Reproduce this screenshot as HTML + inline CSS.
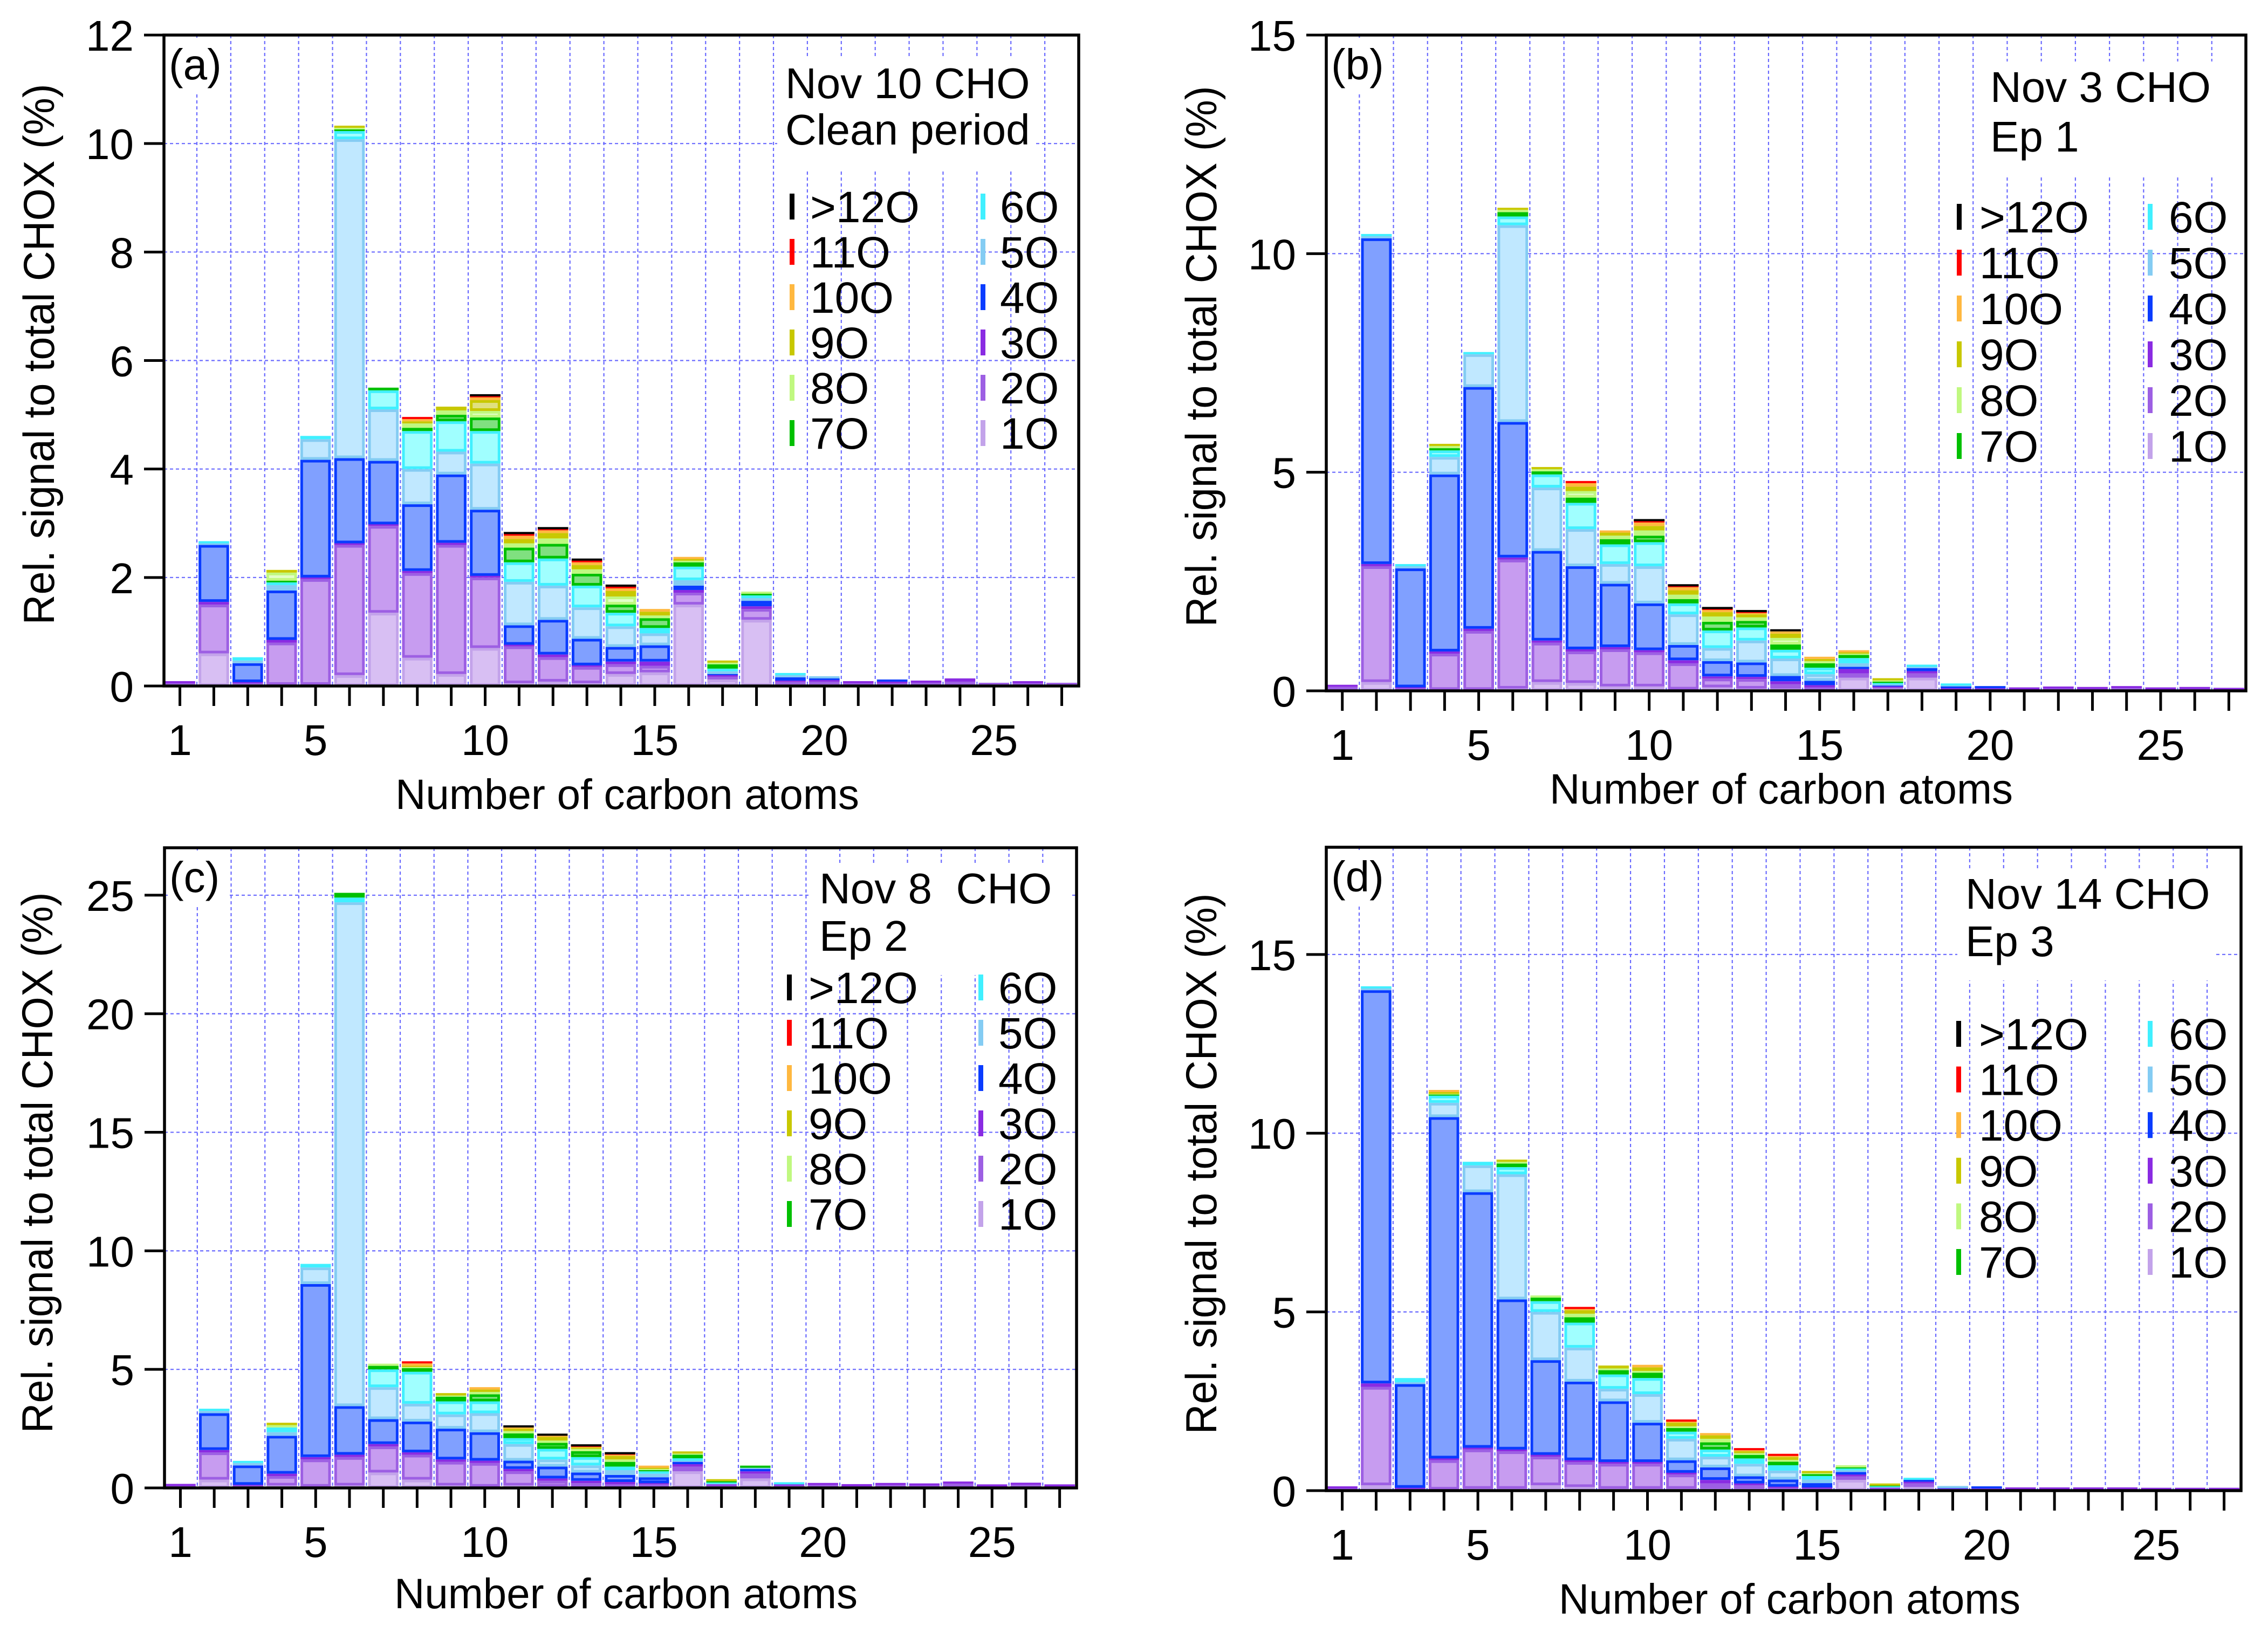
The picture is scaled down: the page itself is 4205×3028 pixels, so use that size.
<!DOCTYPE html>
<html><head><meta charset="utf-8"><style>
html,body{margin:0;padding:0;background:#fff;}
svg{display:block;font-family:"Liberation Sans",Arial,sans-serif;}
</style></head><body>
<svg id="fig" xmlns="http://www.w3.org/2000/svg" width="4205" height="3028" viewBox="0 0 4205 3028"></svg>
<script>
const carbons=[1,2,3,4,5,6,7,8,9,10,11,12,13,14,15,16,17,18,19,20,21,22,23,24,25,26,27];
const orders=['1O','2O','3O','4O','5O','6O','7O','8O','9O','10O','11O','>12O'];
const xTicks=[1,5,10,15,20,25];
const aTicks=[0,2,4,6,8,10,12];
const bTicks=[0,5,10,15];
const cTicks=[0,5,10,15,20,25];
const dTicks=[0,5,10,15];

// Panel (a) Nov 10 clean period
const aO1=[.03,.6,.03,.02,.02,.2,1.35,.52,.22,.7,.05,.08,.05,.22,.25,1.5,.12,1.22,.03,.03,0,0,0,0,.02,0,.02];
const aO2=[.02,.9,.02,.78,1.95,2.4,1.6,1.56,2.38,1.3,.68,.45,.3,.18,.12,.22,.05,.2,.05,.05,.05,.05,.06,.08,.02,.05,.02];
const aO3=[.03,.05,.02,.05,.03,.03,.03,.04,.04,.03,.03,.05,.03,.05,.08,.05,.03,.05,.02,.03,.03,.03,.03,.06,0,.03,0];
const aO4=[0,1.05,.35,.91,2.17,1.57,1.17,1.23,1.26,1.22,.36,.64,.49,.27,.3,.08,.02,.1,.06,.03,0,.02,0,0,0,0,0];
const aO5=[0,.03,.05,.1,.38,5.88,.95,.65,.42,.85,.8,.63,.58,.38,.22,.1,.05,.05,.04,.04,0,0,0,0,0,0,0];
const aO6=[0,.02,.06,.05,.06,.15,.35,.7,.56,.6,.36,.5,.4,.25,.1,.25,.05,.05,.02,0,0,0,0,0,0,0,0];
const aO7=[0,0,0,.03,0,.03,.05,.06,.12,.25,.27,.27,.22,.15,.18,.08,.08,.03,0,0,0,0,0,0,0,0,0];
const aO8=[0,0,0,.15,0,.03,0,.08,.08,.12,.08,.1,.08,.15,.05,.03,.03,.02,0,0,0,0,0,0,0,0,0];
const aO9=[0,0,0,.05,0,.02,0,.04,.07,.2,.08,.1,.08,.1,.07,.03,.03,0,0,0,0,0,0,0,0,0,0];
const aO10=[0,0,0,0,0,0,0,.04,0,.05,.06,.05,.05,.05,.05,.02,0,0,0,0,0,0,0,0,0,0,0];
const aO11=[0,0,0,0,0,0,0,.04,0,.02,.03,.02,.03,.03,0,0,0,0,0,0,0,0,0,0,0,0,0];
const aO12=[0,0,0,0,0,0,0,0,0,.02,.04,.02,.02,.02,0,0,0,0,0,0,0,0,0,0,0,0,0];

// Panel (b) Nov 3 Ep 1
const bO1=[.03,.2,.03,.02,.02,.05,.2,.18,.1,.1,.03,.08,.05,.05,.03,.3,.05,.3,0,0,0,0,0,0,0,0,0];
const bO2=[.06,2.65,.03,.83,1.35,2.95,.9,.72,.85,.78,.6,.2,.22,.1,.05,.1,.03,.1,.03,.04,.03,.05,.04,.06,.03,.04,.02];
const bO3=[.03,.05,.02,.05,.05,.05,.05,.05,.05,.05,.07,.05,.05,.07,.05,.1,.02,.05,.03,.02,.02,.02,.02,.03,.01,.02,.01];
const bO4=[0,7.45,2.72,4.05,5.53,3.1,2.05,1.9,1.45,1.07,.35,.35,.33,.12,.1,.05,.02,.07,.04,.03,0,0,0,0,0,0,0];
const bO5=[0,.05,.05,.4,.75,4.5,1.45,.85,.45,.85,.7,.3,.5,.4,.15,.08,.03,.03,.02,0,0,0,0,0,0,0,0];
const bO6=[0,.05,.05,.15,.05,.2,.3,.6,.45,.55,.25,.4,.3,.2,.15,.12,.03,.02,.02,0,0,0,0,0,0,0,0];
const bO7=[0,0,0,.05,0,.1,.07,.12,.12,.15,.1,.2,.15,.12,.1,.07,.03,0,0,0,0,0,0,0,0,0,0];
const bO8=[0,0,0,.05,0,.05,.05,.15,.08,.12,.1,.12,.08,.15,.05,.03,.03,0,0,0,0,0,0,0,0,0,0];
const bO9=[0,0,0,.05,0,.05,.05,.1,.07,.1,.1,.1,.07,.1,.05,.03,.02,0,0,0,0,0,0,0,0,0,0];
const bO10=[0,0,0,0,0,0,0,.08,.03,.08,.07,.05,.03,.05,.05,.02,0,0,0,0,0,0,0,0,0,0,0];
const bO11=[0,0,0,0,0,0,0,.05,0,.03,.02,.02,.02,0,0,0,0,0,0,0,0,0,0,0,0,0,0];
const bO12=[0,0,0,0,0,0,0,0,0,.02,.02,.02,.02,.02,0,0,0,0,0,0,0,0,0,0,0,0,0];

// Panel (c) Nov 8 Ep 2
const cO1=[.02,.35,.05,.1,.05,.1,.65,.35,.1,.05,.1,.05,.05,.05,.05,.7,.05,.4,.02,.02,.02,.02,.02,.03,.02,.03,.02];
const cO2=[.06,1.15,.05,.4,1.15,1.2,1.1,1.05,1.0,1.0,.6,.25,.15,.1,.1,.2,.05,.2,.08,.1,.05,.1,.08,.15,.04,.1,.04];
const cO3=[.02,.1,.03,.1,.1,.1,.1,.1,.1,.1,.1,.1,.1,.1,.05,.1,.05,.1,.05,.05,.03,.05,.05,.07,.02,.05,.02];
const cO4=[0,1.55,.82,1.6,7.3,2.05,1.05,1.3,1.3,1.2,.35,.5,.35,.3,.25,.1,0,.1,0,0,0,0,0,0,0,0,0];
const cO5=[0,.1,.1,.15,.7,21.25,1.35,.75,.6,.8,.7,.3,.3,.2,.15,.05,.03,.05,0,0,0,0,0,0,0,0,0];
const cO6=[0,.05,.05,.2,.15,.2,.75,1.35,.55,.5,.25,.45,.35,.15,.1,.1,.05,0,.07,0,0,0,0,0,0,0,0];
const cO7=[0,0,0,0,0,.2,.15,.15,.2,.3,.2,.25,.25,.2,.05,.15,.05,.05,0,0,0,0,0,0,0,0,0];
const cO8=[0,0,0,.1,0,0,.05,.05,.05,.1,.1,.1,.1,.1,.05,.05,0,0,0,0,0,0,0,0,0,0,0];
const cO9=[0,0,0,.1,0,0,0,.05,.1,.1,.1,.15,.05,.15,.05,.05,.03,0,0,0,0,0,0,0,0,0,0];
const cO10=[0,0,0,0,0,0,0,.1,0,.1,.05,.05,.03,.05,.05,0,0,0,0,0,0,0,0,0,0,0,0];
const cO11=[0,0,0,0,0,0,0,.07,0,0,0,0,.02,.02,0,0,0,0,0,0,0,0,0,0,0,0,0];
const cO12=[0,0,0,0,0,0,0,0,0,0,.02,.02,.02,.02,0,0,0,0,0,0,0,0,0,0,0,0,0];

// Panel (d) Nov 14 Ep 3
const dO1=[.02,.15,.03,.03,.05,.05,.15,.1,.05,.05,.05,.05,.05,.03,.03,.3,.03,.1,.02,.02,.01,.01,.01,.01,.01,.01,.01];
const dO2=[.04,2.75,.02,.82,1.1,1.05,.8,.7,.7,.7,.4,.15,.1,.05,.03,.1,.03,.1,.03,.03,.02,.02,.02,.02,.01,.01,.01];
const dO3=[.02,.1,.03,.05,.05,.05,.05,.05,.05,.05,.05,.1,.05,.03,.03,.05,.02,.05,.01,.01,.02,.02,.01,.01,.01,.01,.01];
const dO4=[0,11.0,2.9,9.55,7.15,4.2,2.65,2.2,1.7,1.1,.35,.35,.2,.2,.12,.07,0,.05,.01,.01,0,0,0,0,0,0,0];
const dO5=[0,.05,.05,.4,.75,3.5,1.35,.95,.35,.8,.6,.3,.35,.25,.1,.05,.02,0,.01,0,0,0,0,0,0,0,0];
const dO6=[0,.05,.12,.2,.1,.2,.3,.7,.4,.45,.2,.2,.15,.15,.1,.05,.02,.02,0,0,0,0,0,0,0,0,0];
const dO7=[0,0,0,.03,0,.1,.1,.15,.12,.15,.1,.2,.1,.1,.05,.03,.02,0,0,0,0,0,0,0,0,0,0];
const dO8=[0,0,0,.02,0,.05,.05,.1,.05,.05,.05,.1,.05,.05,.03,.02,0,0,0,0,0,0,0,0,0,0,0];
const dO9=[0,0,0,.05,0,.05,0,.1,.08,.1,.1,.1,.05,.08,.02,0,.01,0,0,0,0,0,0,0,0,0,0];
const dO10=[0,0,0,.05,0,0,0,.03,0,.07,.03,.03,.03,.03,0,0,0,0,0,0,0,0,0,0,0,0,0];
const dO11=[0,0,0,0,0,0,0,.02,0,0,.02,0,.02,.02,0,0,0,0,0,0,0,0,0,0,0,0,0];
const dO12=[0,0,0,0,0,0,0,0,0,0,0,0,0,0,0,0,0,0,0,0,0,0,0,0,0,0,0];

const fills=['#d8bff3','#c79cf0','#b584f0','#80a0ff','#c0e8ff','#a0ffff','#80e080','#e2ffc8','#e0e080','#ffd080','#ff8080','#404040'];
const strokes=['#c3a3ea','#9d5fe3','#8a2be2','#0a3cff','#84ccf3','#40f0ff','#00c000','#c0f880','#c8c800','#ffb840','#ff0000','#000000'];

const panels=[
 {id:'a',series:[aO1,aO2,aO3,aO4,aO5,aO6,aO7,aO8,aO9,aO10,aO11,aO12],ticks:aTicks,ymax:12,L:304,R:2000,T:65,B:1272,
  title:['Nov 10 CHO','Clean period'],tx:1456,ty:[182,268],lx:[1464,1818],tx2:[1502,1854],ly:383,ls:84,
  ylab:{x:100,c:657},xlab:{x:733,w:860,y:1500}},
 {id:'b',series:[bO1,bO2,bO3,bO4,bO5,bO6,bO7,bO8,bO9,bO10,bO11,bO12],ticks:bTicks,ymax:15,L:2459,R:4164,T:65,B:1281,
  title:['Nov 3 CHO','Ep 1'],tx:3690,ty:[189,281],lx:[3628,3982],tx2:[3670,4021],ly:402,ls:85,
  ylab:{x:2255,c:661},xlab:{x:2873,w:859,y:1490}},
 {id:'c',series:[cO1,cO2,cO3,cO4,cO5,cO6,cO7,cO8,cO9,cO10,cO11,cO12],ticks:cTicks,ymax:27,L:305,R:1996,T:1572,B:2759,
  title:['Nov 8\u00a0\u00a0CHO','Ep 2'],tx:1519,ty:[1675,1763],lx:[1459,1814],tx2:[1499,1851],ly:1831,ls:84,
  ylab:{x:97,c:2156},xlab:{x:731,w:859,y:2982}},
 {id:'d',series:[dO1,dO2,dO3,dO4,dO5,dO6,dO7,dO8,dO9,dO10,dO11,dO12],ticks:dTicks,ymax:18,L:2459,R:4155,T:1571,B:2764,
  title:['Nov 14 CHO','Ep 3'],tx:3644,ty:[1685,1773],lx:[3627,3982],tx2:[3669,4021],ly:1917,ls:84.6,
  ylab:{x:2255,c:2158},xlab:{x:2890,w:856,y:2992}}
];

const NS='http://www.w3.org/2000/svg';
const svg=document.getElementById('fig');
function el(tag,parent,attrs){const e=document.createElementNS(NS,tag);for(const k in attrs)e.setAttribute(k,attrs[k]);parent.appendChild(e);return e;}

panels.forEach(p=>{
  const g=el('g',svg,{});
  
  
  const xmin=0.53,xmax=27.5;
  const xs=v=>p.L+(v-xmin)/(xmax-xmin)*(p.R-p.L);
  const ys=v=>p.B-v/p.ymax*(p.B-p.T);

  const grid=el('g',g,{stroke:'#6a6aff','stroke-width':2.2,'stroke-dasharray':'6,5'});
  
  
  for(let n=1;n<27;n++){el('line',grid,{x1:xs(n+0.5),x2:xs(n+0.5),y1:p.T,y2:p.B});}
  p.ticks.forEach(t=>{if(t>0&&t<p.ymax-0.01)el('line',grid,{x1:p.L,x2:p.R,y1:ys(t),y2:ys(t)});});

  el('rect',g,{x:p.tx-15,y:p.ty[0]-75,width:480,height:p.ty[1]-p.ty[0]+120,fill:'#fff'});
  el('rect',g,{x:p.L+6,y:p.T+5,width:110,height:100,fill:'#fff'});

  const bars=el('g',g,{});
  
  
  carbons.forEach((c,i)=>{
    let acc=0;
    p.series.forEach((s,k)=>{
      const v=s[i]||0;
      if(v<=0)return;
      const y0=ys(acc),y1=ys(acc+v);acc+=v;
      const x0=xs(c-0.45),x1=xs(c+0.45);
      const h=y0-y1;
      let r;
      if(h>=9){
        r=el('rect',bars,{x:x0+2.5,y:y1+2.5,width:x1-x0-5,height:h-5,fill:fills[k],stroke:strokes[k],'stroke-width':5});
      }else{
        const hh=Math.max(h,4);
        r=el('rect',bars,{x:x0,y:y0-hh,width:x1-x0,height:hh,fill:strokes[k]});
      }
      
      
    });
  });

  const fr=el('rect',g,{x:p.L,y:p.T,width:p.R-p.L,height:p.B-p.T,fill:'none',stroke:'#000','stroke-width':5.5});
  
  

  const xa=el('g',g,{});
  
  
  carbons.forEach(c=>{el('line',xa,{x1:xs(c),x2:xs(c),y1:p.B,y2:p.B+37,stroke:'#000','stroke-width':5});});
  xTicks.forEach(t=>{
    const tx=el('text',xa,{x:xs(t),y:p.B+128,'text-anchor':'middle','font-size':80,fill:'#000'});
    tx.textContent=t;
    
    
  });
  const xl=el('text',xa,{x:p.xlab.x,y:p.xlab.y,'font-size':79,textLength:p.xlab.w,lengthAdjust:'spacingAndGlyphs',fill:'#000'});
  xl.textContent='Number of carbon atoms';
  
  

  const ya=el('g',g,{});
  
  
  p.ticks.forEach(t=>{
    el('line',ya,{x1:p.L-37,x2:p.L,y1:ys(t),y2:ys(t),stroke:'#000','stroke-width':5});
    const tx=el('text',ya,{x:p.L-56,y:ys(t)+29,'text-anchor':'end','font-size':80,fill:'#000'});
    tx.textContent=t;
    
    
  });
  const yl=el('text',ya,{x:0,y:0,'font-size':81,'text-anchor':'middle',textLength:1003,lengthAdjust:'spacingAndGlyphs',fill:'#000',transform:'translate('+p.ylab.x+','+p.ylab.c+') rotate(-90)'});
  yl.textContent='Rel. signal to total CHOX (%)';
  
  

  const pl=el('text',g,{x:p.L+9,y:p.T+82,'font-size':80,fill:'#000'});
  pl.textContent='('+p.id+')';
  
  

  p.title.forEach((t,j)=>{
    const tt=el('text',g,{x:p.tx,y:p.ty[j],'font-size':80,fill:'#000'});
    tt.textContent=t;
    
    
  });

  const lg=el('g',g,{});
  
  
  const col1=[11,10,9,8,7,6],col2=[5,4,3,2,1,0];
  [col1,col2].forEach((col,ci)=>{
    col.forEach((k,ri)=>{
      const cy=p.ly+ri*p.ls;
      const m=el('rect',lg,{x:p.lx[ci],y:cy-24,width:9,height:48,fill:strokes[k]});
      
      
      const t=el('text',lg,{x:p.tx2[ci],y:cy+29,'font-size':82,fill:'#000'});
      t.textContent=orders[k];
      
      
    });
  });
});
</script>
</body></html>
